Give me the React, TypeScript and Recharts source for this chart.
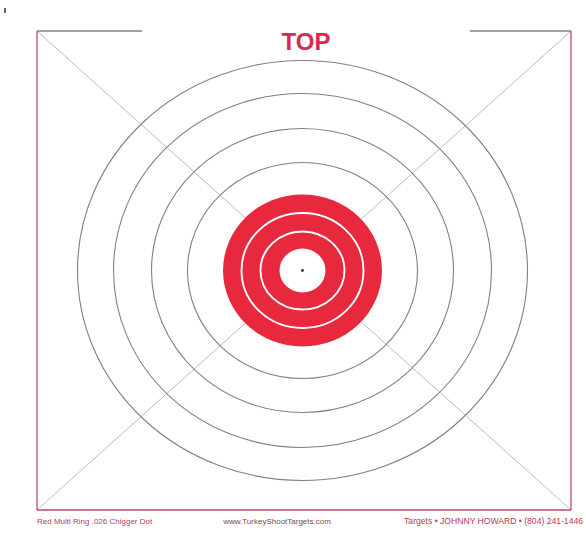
import React from 'react';
import { ScatterChart, XAxis, YAxis, ReferenceArea, ReferenceLine, Scatter } from 'recharts';

const W = 586;
const H = 533;

const CENTER = { x: 302.5, y: 270.5 };
// outer black scoring rings (horizontal / vertical radii)
const RING_RX = [115, 151, 189, 225];
const RING_RY = [108, 142, 177, 210];
// bull: red disc, outer white ring, inner white ring, white center
const BULL_RX = [79.5, 61, 42, 23];
const BULL_RY = [76, 57.5, 39, 22];
const BULL_KIND = ['red', 'ring', 'ring', 'center'];

const FRAME_X = [37, 571];
const FRAME_Y = [31, 510];
const TOP_SEGMENTS = [
  [37, 142],
  [470, 571],
];
const CENTER_DOT = [{ x: CENTER.x, y: CENTER.y }];

const FOOT_LEFT = 'Red Multi Ring .026 Chigger Dot';
const FOOT_MID = 'www.TurkeyShootTargets.com';
const FOOT_RIGHT = 'Targets \u2022 JOHNNY HOWARD \u2022 (804) 241-1446';
const TITLE = 'TOP';

const RED = '#e8293d';
const RING = '#8a7c83';
const DIAG = '#b8b2b5';
const FRAME_PINK = '#c44670';
const FRAME_GRAY = '#8a8085';

const norm = (p: any) => {
  const x0 = Math.min(p.x, p.x + p.width);
  const y0 = Math.min(p.y, p.y + p.height);
  return { x0, y0, w: Math.abs(p.width), h: Math.abs(p.height) };
};

const ellipseShape = (fill: string, stroke: string, sw: number) => (p: any) => {
  const { x0, y0, w, h } = norm(p);
  return (
    <ellipse
      cx={x0 + w / 2}
      cy={y0 + h / 2}
      rx={w / 2}
      ry={h / 2}
      fill={fill}
      stroke={stroke}
      strokeWidth={sw}
    />
  );
};

const diagShape = (anti: boolean) => (p: any) => {
  const { x0, y0, w, h } = norm(p);
  return anti ? (
    <line x1={x0} y1={y0 + h} x2={x0 + w} y2={y0} stroke={DIAG} strokeWidth={0.9} />
  ) : (
    <line x1={x0} y1={y0} x2={x0 + w} y2={y0 + h} stroke={DIAG} strokeWidth={0.9} />
  );
};

const dotShape = (p: any) => <circle cx={p.cx} cy={p.cy} r={1.4} fill="#333" />;

export default function App() {
  const font = '"Liberation Sans", Arial, Helvetica, sans-serif';
  return (
    <div style={{ position: 'absolute', left: 0, top: 0, width: W, height: H, background: '#fff' }}>
      <ScatterChart width={W} height={H} margin={{ top: 0, right: 0, bottom: 0, left: 0 }}>
        <XAxis type="number" dataKey="x" domain={[0, W]} hide allowDataOverflow />
        <YAxis type="number" dataKey="y" domain={[0, H]} reversed hide allowDataOverflow />

        <ReferenceArea
          x1={FRAME_X[0]}
          x2={FRAME_X[1]}
          y1={FRAME_Y[0]}
          y2={FRAME_Y[1]}
          shape={diagShape(false)}
        />
        <ReferenceArea
          x1={FRAME_X[0]}
          x2={FRAME_X[1]}
          y1={FRAME_Y[0]}
          y2={FRAME_Y[1]}
          shape={diagShape(true)}
        />

        {RING_RX.map((rx, i) => (
          <ReferenceArea
            key={'ring' + i}
            x1={CENTER.x - rx}
            x2={CENTER.x + rx}
            y1={CENTER.y - RING_RY[i]}
            y2={CENTER.y + RING_RY[i]}
            shape={ellipseShape('none', RING, 1.1)}
          />
        ))}

        {BULL_RX.map((rx, i) => (
          <ReferenceArea
            key={'bull' + i}
            x1={CENTER.x - rx}
            x2={CENTER.x + rx}
            y1={CENTER.y - BULL_RY[i]}
            y2={CENTER.y + BULL_RY[i]}
            shape={
              BULL_KIND[i] === 'red'
                ? ellipseShape(RED, 'none', 0)
                : BULL_KIND[i] === 'ring'
                ? ellipseShape('none', '#fff', 1.9)
                : ellipseShape('#fff', 'none', 0)
            }
          />
        ))}

        <ReferenceLine segment={[{ x: FRAME_X[0], y: FRAME_Y[0] }, { x: FRAME_X[0], y: FRAME_Y[1] }]} stroke={FRAME_PINK} strokeWidth={1.3} />
        <ReferenceLine segment={[{ x: FRAME_X[1], y: FRAME_Y[0] }, { x: FRAME_X[1], y: FRAME_Y[1] }]} stroke={FRAME_PINK} strokeWidth={1.3} />
        <ReferenceLine segment={[{ x: FRAME_X[0], y: FRAME_Y[1] }, { x: FRAME_X[1], y: FRAME_Y[1] }]} stroke={FRAME_PINK} strokeWidth={1.3} />
        {TOP_SEGMENTS.map((s, i) => (
          <ReferenceLine
            key={'top' + i}
            segment={[{ x: s[0], y: FRAME_Y[0] }, { x: s[1], y: FRAME_Y[0] }]}
            stroke={FRAME_GRAY}
            strokeWidth={1.3}
          />
        ))}
        <ReferenceLine segment={[{ x: 5, y: 8 }, { x: 5, y: 13 }]} stroke="#222" strokeWidth={1.4} />

        <Scatter data={CENTER_DOT} dataKey="y" shape={dotShape} isAnimationActive={false} />

        <text x={306} y={49.5} textAnchor="middle" fill="#d82a4e" fontFamily={font} fontWeight="bold" fontSize={24}>
          {TITLE}
        </text>
        <text x={37} y={524} textAnchor="start" fill="#b5405e" fontFamily={font} fontSize={8}>
          {FOOT_LEFT}
        </text>
        <text x={277} y={524} textAnchor="middle" fill="#7d4652" fontFamily={font} fontSize={8}>
          {FOOT_MID}
        </text>
        <text x={583} y={524} textAnchor="end" fill="#b03a5a" fontFamily={font} fontSize={8.6}>
          {FOOT_RIGHT}
        </text>
      </ScatterChart>
    </div>
  );
}
